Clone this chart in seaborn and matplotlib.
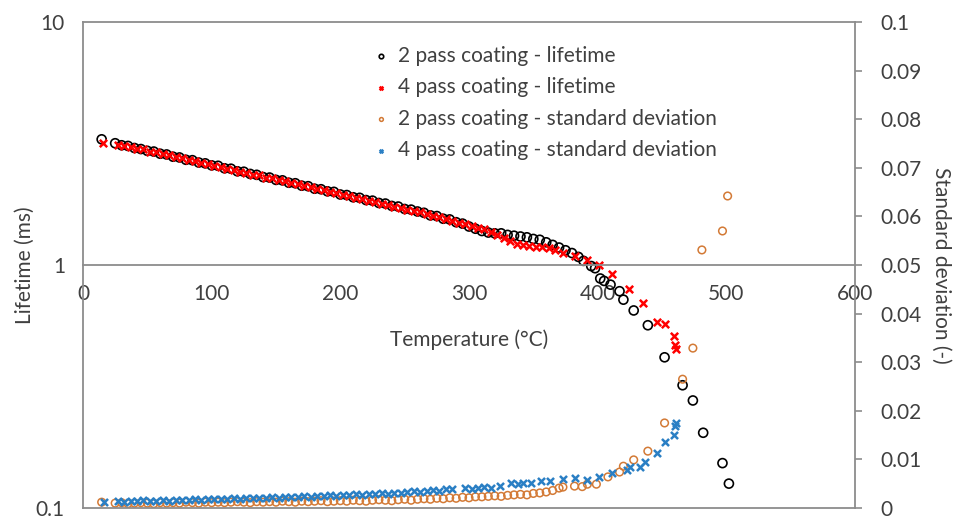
import matplotlib.pyplot as plt
from matplotlib.ticker import NullLocator
import seaborn as sns

# 2 pass coating - lifetime (ms)
temp_2p_life = [14.5, 25, 30, 35, 40, 45, 50, 55, 60, 65, 70, 75, 80, 85, 90, 95, 100,
                105, 110, 115, 120, 125, 130, 135, 140, 145, 150, 155, 160, 165, 170,
                175, 180, 185, 190, 195, 200, 205, 210, 215, 220, 225, 230, 235, 240,
                245, 250, 255, 260, 265, 270, 275, 280, 285, 290, 295, 300, 305, 310,
                315, 320, 325, 330, 335, 340, 345, 350, 355, 360, 365, 370, 375, 380,
                385, 389, 395, 398, 402, 405, 410, 417, 420, 428, 439, 452, 466, 474,
                482, 497, 502]
life_2p = [3.29, 3.17, 3.11, 3.09, 3.03, 3.00, 2.95, 2.93, 2.87, 2.85, 2.79, 2.77, 2.71,
           2.70, 2.64, 2.62, 2.57, 2.56, 2.50, 2.49, 2.43, 2.42, 2.37, 2.35, 2.30, 2.29,
           2.24, 2.23, 2.18, 2.17, 2.12, 2.11, 2.06, 2.05, 2.01, 2.00, 1.95, 1.94, 1.90,
           1.89, 1.85, 1.84, 1.80, 1.79, 1.75, 1.74, 1.70, 1.69, 1.66, 1.64, 1.60, 1.59,
           1.55, 1.54, 1.50, 1.48, 1.44, 1.41, 1.38, 1.36, 1.35, 1.35, 1.33, 1.32, 1.31,
           1.30, 1.28, 1.27, 1.24, 1.21, 1.18, 1.15, 1.12, 1.08, 1.04, 0.99, 0.97, 0.88,
           0.86, 0.83, 0.78, 0.72, 0.65, 0.565, 0.417, 0.32, 0.277, 0.204, 0.153, 0.126]

# 4 pass coating - lifetime (ms)
temp_4p_life = [15.5, 27, 32, 37, 42, 47, 52, 57, 62, 67, 72, 77, 82, 87, 92, 97, 102,
                107, 112, 117, 122, 127, 132, 137, 142, 147, 152, 157, 162, 167, 172,
                177, 182, 187, 192, 197, 202, 207, 212, 217, 222, 227, 232, 237, 242,
                247, 252, 257, 262, 267, 272, 277, 282, 287, 292, 297, 302, 307, 312,
                317, 322, 327, 332, 337, 342, 347, 352, 357, 362, 367, 373, 382, 392,
                401, 411, 424, 435, 446, 452, 459, 460, 461]
life_4p = [3.19, 3.13, 3.10, 3.06, 3.01, 2.99, 2.93, 2.91, 2.85, 2.83, 2.78, 2.75, 2.70,
           2.68, 2.63, 2.60, 2.56, 2.54, 2.49, 2.47, 2.42, 2.40, 2.35, 2.34, 2.29, 2.27,
           2.23, 2.21, 2.17, 2.15, 2.11, 2.09, 2.05, 2.04, 2.00, 1.98, 1.94, 1.93, 1.89,
           1.87, 1.84, 1.82, 1.79, 1.77, 1.74, 1.72, 1.69, 1.67, 1.65, 1.62, 1.59, 1.57,
           1.54, 1.52, 1.49, 1.47, 1.45, 1.42, 1.40, 1.37, 1.33, 1.29, 1.25, 1.22, 1.21,
           1.20, 1.19, 1.19, 1.17, 1.15, 1.12, 1.09, 1.05, 1.00, 0.918, 0.80, 0.70, 0.58,
           0.57, 0.51, 0.47, 0.45]

# 2 pass coating - standard deviation (-)
temp_2p_std = [14.5, 25, 30, 35, 40, 45, 50, 55, 60, 65, 70, 75, 80, 85, 90, 95, 100,
               105, 110, 115, 120, 125, 130, 135, 140, 145, 150, 155, 160, 165, 170,
               175, 180, 185, 190, 195, 200, 205, 210, 215, 220, 225, 230, 235, 240,
               245, 250, 255, 260, 265, 270, 275, 280, 285, 290, 295, 300, 305, 310,
               315, 320, 325, 330, 335, 340, 345, 350, 355, 360, 365, 370, 373, 382,
               388, 392, 399, 408, 417, 420, 428, 439, 452, 466, 474, 481, 497, 501]
std_2p = [0.0012, 0.0010, 0.0011, 0.0009, 0.0010, 0.0011, 0.0010, 0.0009, 0.0011, 0.0010,
          0.0011, 0.0010, 0.0012, 0.0011, 0.0010, 0.0012, 0.0011, 0.0012, 0.0011, 0.0012,
          0.0013, 0.0012, 0.0011, 0.0013, 0.0012, 0.0013, 0.0012, 0.0014, 0.0013, 0.0012,
          0.0014, 0.0013, 0.0014, 0.0015, 0.0013, 0.0014, 0.0015, 0.0014, 0.0016, 0.0015,
          0.0014, 0.0016, 0.0017, 0.0016, 0.0015, 0.0017, 0.0018, 0.0016, 0.0018, 0.0019,
          0.0018, 0.0020, 0.0019, 0.0021, 0.0020, 0.0022, 0.0021, 0.0023, 0.0023, 0.0024,
          0.0025, 0.0024, 0.0026, 0.0027, 0.0028, 0.0027, 0.0030, 0.0031, 0.0033, 0.0036,
          0.0041, 0.0043, 0.0045, 0.0044, 0.0049, 0.0049, 0.0064, 0.0074, 0.0086, 0.0099,
          0.0117, 0.0175, 0.0265, 0.0329, 0.0531, 0.0570, 0.0642]

# 4 pass coating - standard deviation (-)
temp_4p_std = [16, 27, 32, 37, 42, 47, 52, 57, 62, 67, 72, 77, 82, 87, 92, 97, 102, 107,
               112, 117, 122, 127, 132, 137, 142, 147, 152, 157, 162, 167, 172, 177, 182,
               187, 192, 197, 202, 207, 212, 217, 222, 227, 232, 237, 242, 247, 252, 257,
               262, 267, 272, 277, 282, 287, 297, 302, 307, 312, 317, 324, 333, 338, 342,
               348, 356, 363, 373, 382, 392, 401, 411, 423, 425, 433, 437, 446, 452, 459,
               460, 461]
std_4p = [0.0012, 0.0014, 0.0013, 0.0015, 0.0014, 0.0016, 0.0015, 0.0014, 0.0016, 0.0015,
          0.0017, 0.0016, 0.0017, 0.0018, 0.0017, 0.0018, 0.0019, 0.0018, 0.0019, 0.0020,
          0.0019, 0.0020, 0.0021, 0.0020, 0.0021, 0.0022, 0.0021, 0.0022, 0.0023, 0.0022,
          0.0024, 0.0023, 0.0025, 0.0024, 0.0026, 0.0025, 0.0027, 0.0026, 0.0028, 0.0027,
          0.0029, 0.0028, 0.0030, 0.0029, 0.0031, 0.0030, 0.0032, 0.0034, 0.0033, 0.0035,
          0.0037, 0.0036, 0.0039, 0.0040, 0.0041, 0.0040, 0.0041, 0.0043, 0.0042, 0.0045,
          0.0051, 0.0050, 0.0052, 0.0051, 0.0055, 0.0056, 0.0060, 0.0062, 0.0058, 0.0064,
          0.0072, 0.0078, 0.0084, 0.0084, 0.0095, 0.0113, 0.0136, 0.0150, 0.0169, 0.0175]

x_ticks = [0, 100, 200, 300, 400, 500, 600]
life_ticks = [0.1, 1, 10]
life_tick_labels = ["0.1", "1", "10"]
std_ticks = [0, 0.01, 0.02, 0.03, 0.04, 0.05, 0.06, 0.07, 0.08, 0.09, 0.1]
std_tick_labels = ["0", "0.01", "0.02", "0.03", "0.04", "0.05", "0.06", "0.07", "0.08", "0.09", "0.1"]

sns.set_style("white")
plt.rcParams['font.family'] = ['Lato', 'DejaVu Sans']
text_color = "#404040"
frame_color = "#8c8c8c"
fs = 15

fig = plt.figure(figsize=(9.63, 5.20), dpi=100)
ax = fig.add_axes([83 / 963, 12 / 520, 772 / 963, 486 / 520])
ax2 = ax.twinx()

sns.scatterplot(x=temp_2p_life, y=life_2p, ax=ax, marker="o", s=42,
                facecolor="none", edgecolor="black", linewidth=1.2,
                label="2 pass coating - lifetime")
sns.scatterplot(x=temp_4p_life, y=life_4p, ax=ax, marker="x", s=28,
                color="#ff0000", linewidth=1.8, label="4 pass coating - lifetime")
sns.scatterplot(x=temp_2p_std, y=std_2p, ax=ax2, marker="o", s=30,
                facecolor="none", edgecolor="#d37a36", linewidth=1.1,
                label="2 pass coating - standard deviation")
sns.scatterplot(x=temp_4p_std, y=std_4p, ax=ax2, marker="x", s=26,
                color="#2a7fc4", linewidth=1.8, label="4 pass coating - standard deviation")

# left axis: log lifetime, x axis crosses at 1
ax.set_yscale("log")
ax.set_ylim(0.1, 10)
ax.set_xlim(0, 600)
ax.set_yticks(life_ticks)
ax.set_yticklabels(life_tick_labels)
ax.yaxis.set_minor_locator(NullLocator())
ax.set_xticks(x_ticks)
ax.tick_params(axis="y", length=0, pad=13, labelsize=fs, labelcolor=text_color)
ax.tick_params(axis="x", length=0, pad=14, labelsize=fs, labelcolor=text_color)
ax.spines["bottom"].set_position(("data", 1))
for side in ["left", "bottom"]:
    ax.spines[side].set_color(frame_color)
    ax.spines[side].set_linewidth(1.3)
ax.spines["top"].set_visible(False)
ax.spines["right"].set_visible(False)
ax.set_xlabel("Temperature (°C)", fontsize=fs, color=text_color, labelpad=18)
ax.set_ylabel("Lifetime (ms)", fontsize=fs, color=text_color)
ax.yaxis.set_label_coords(-0.062, 0.5)

# right axis: standard deviation
ax2.set_ylim(0, 0.1)
ax2.set_yticks(std_ticks)
ax2.set_yticklabels(std_tick_labels)
ax2.tick_params(axis="y", direction="out", length=5, width=1.2, color=frame_color,
                pad=13, labelsize=fs, labelcolor=text_color)
for side in ["right", "top", "bottom"]:
    ax2.spines[side].set_color(frame_color)
    ax2.spines[side].set_linewidth(1.3)
ax2.spines["left"].set_visible(False)
ax2.set_ylabel("Standard deviation (-)", fontsize=fs, color=text_color,
               rotation=270, va="bottom")
ax2.yaxis.set_label_coords(1.098, 0.5)

h1, l1 = ax.get_legend_handles_labels()
h2, l2 = ax2.get_legend_handles_labels()
if ax.get_legend():
    ax.get_legend().remove()
leg = ax2.legend(h1 + h2, l1 + l2, loc="upper left", bbox_to_anchor=(0.365, 0.972),
                 frameon=False, fontsize=fs, markerscale=0.5, handlelength=0.6,
                 handletextpad=0.5, labelspacing=0.55, borderpad=0)
for t in leg.get_texts():
    t.set_color(text_color)

fig.savefig("out.png", dpi=100)
